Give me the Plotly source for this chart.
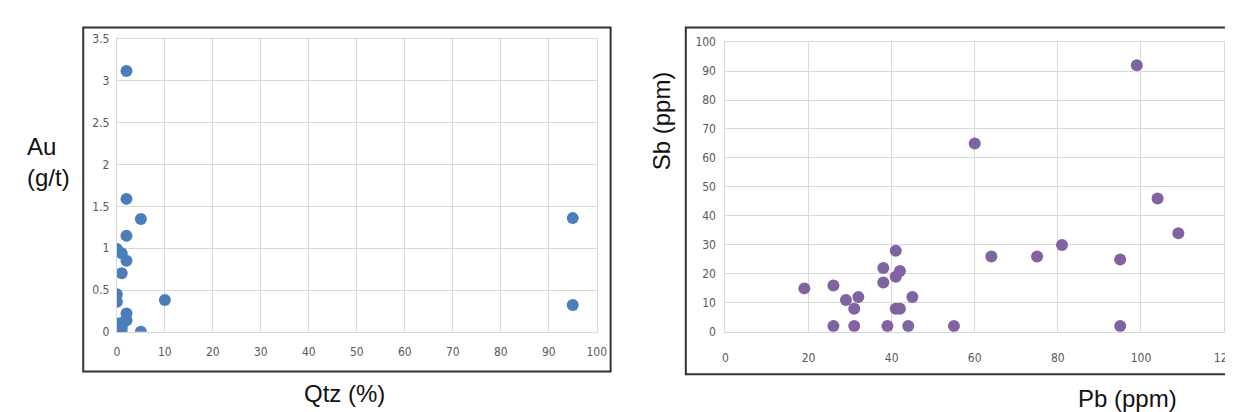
import plotly.graph_objects as go

W, H = 1233, 412

# Left chart: Qtz (%) vs Au (g/t)
qtz = [2, 2, 5, 2, 0, 1, 2, 1, 0, 0, 10, 2, 2, 1.5, 1, 0.5, 0, 0, 0, 0.5, 1, 0.5, 1, 5, 95, 95]
au = [3.12, 1.59, 1.35, 1.15, 0.99, 0.94, 0.85, 0.70, 0.45, 0.36, 0.38, 0.22, 0.14,
      0.12, 0.08, 0.05, 0.07, 0.03, 0.0, 0.0, 0.0, 0.1, 0.04, 0.0, 1.36, 0.32]

# Right chart: Pb (ppm) vs Sb (ppm)
pb = [19, 26, 26, 29, 31, 31, 32, 38, 38, 39, 41, 41, 42, 41, 42, 44, 45, 55,
      60, 64, 75, 81, 95, 95, 99, 104, 109]
sb = [15, 16, 2, 11, 8, 2, 12, 22, 17, 2, 28, 19, 21, 8, 8, 2, 12, 2,
      65, 26, 26, 30, 25, 2, 92, 46, 34]

left_xticks = list(range(0, 101, 10))
left_yticks = [0, 0.5, 1, 1.5, 2, 2.5, 3, 3.5]
right_xticks = list(range(0, 121, 20))
right_yticks = list(range(0, 101, 10))

BLUE = "#4a7ebb"
PURPLE = "#8064a2"
GRID = "#d9d9d9"
TICKFONT = dict(family="Liberation Sans Narrow, DejaVu Sans Condensed, Arial Narrow, sans-serif",
                size=12, color="#595959")
TITLEFONT = dict(family="Liberation Sans, Arial, sans-serif", size=24, color="#111111")

fig = go.Figure()
fig.add_trace(go.Scatter(x=qtz, y=au, mode="markers", xaxis="x", yaxis="y",
                         marker=dict(color=BLUE, size=12), showlegend=False))
fig.add_trace(go.Scatter(x=pb, y=sb, mode="markers", xaxis="x2", yaxis="y2",
                         marker=dict(color=PURPLE, size=12), showlegend=False))

def px(x):
    return x / W

def py(y):
    return 1 - y / H

axis_common = dict(showgrid=True, gridcolor=GRID, gridwidth=1,
                   showline=True, linecolor=GRID, linewidth=1, mirror=True,
                   tickfont=TICKFONT, ticks="", fixedrange=True)

fig.update_layout(
    width=W, height=H,
    margin=dict(l=0, r=0, t=0, b=0),
    paper_bgcolor="white", plot_bgcolor="white",
    xaxis=dict(domain=[px(107), px(592)], range=[0, 100], tickvals=left_xticks,
               anchor="y", ticklabelstandoff=9, zeroline=False, **axis_common),
    yaxis=dict(domain=[py(328), py(25)], range=[0, 3.5], tickvals=left_yticks,
               anchor="x", ticklabelstandoff=4, zeroline=True, zerolinecolor="#bfbfbf",
               zerolinewidth=1.5, **axis_common),
    xaxis2=dict(domain=[px(722), px(1226)], range=[0, 120], tickvals=right_xticks,
                anchor="y2", ticklabelstandoff=15, zeroline=False, **axis_common),
    yaxis2=dict(domain=[py(328), py(28)], range=[0, 100], tickvals=right_yticks,
                anchor="x2", ticklabelstandoff=6, zeroline=True, zerolinecolor="#bfbfbf",
                zerolinewidth=1.5, **axis_common),
    shapes=[
        dict(type="rect", xref="paper", yref="paper",
             x0=px(73), x1=px(606), y0=py(369), y1=py(13),
             line=dict(color="#333333", width=2), fillcolor="rgba(0,0,0,0)", layer="above"),
        dict(type="rect", xref="paper", yref="paper",
             x0=px(682), x1=px(1245), y0=py(372), y1=py(13),
             line=dict(color="#333333", width=2), fillcolor="rgba(0,0,0,0)", layer="above"),
    ],
    annotations=[
        dict(text="Au<br>(g/t)", xref="paper", yref="paper", x=px(38), y=py(152),
             xanchor="center", yanchor="middle", showarrow=False, align="left",
             font=TITLEFONT),
        dict(text="Qtz (%)", xref="paper", yref="paper", x=px(337), y=py(392),
             xanchor="center", yanchor="middle", showarrow=False, font=TITLEFONT),
        dict(text="Sb (ppm)", xref="paper", yref="paper", x=px(657), y=py(110),
             xanchor="center", yanchor="middle", showarrow=False, textangle=-90,
             font=TITLEFONT),
        dict(text="Pb (ppm)", xref="paper", yref="paper", x=px(1128), y=py(397),
             xanchor="center", yanchor="middle", showarrow=False, font=TITLEFONT),
    ],
)

fig.write_html("out.html")
